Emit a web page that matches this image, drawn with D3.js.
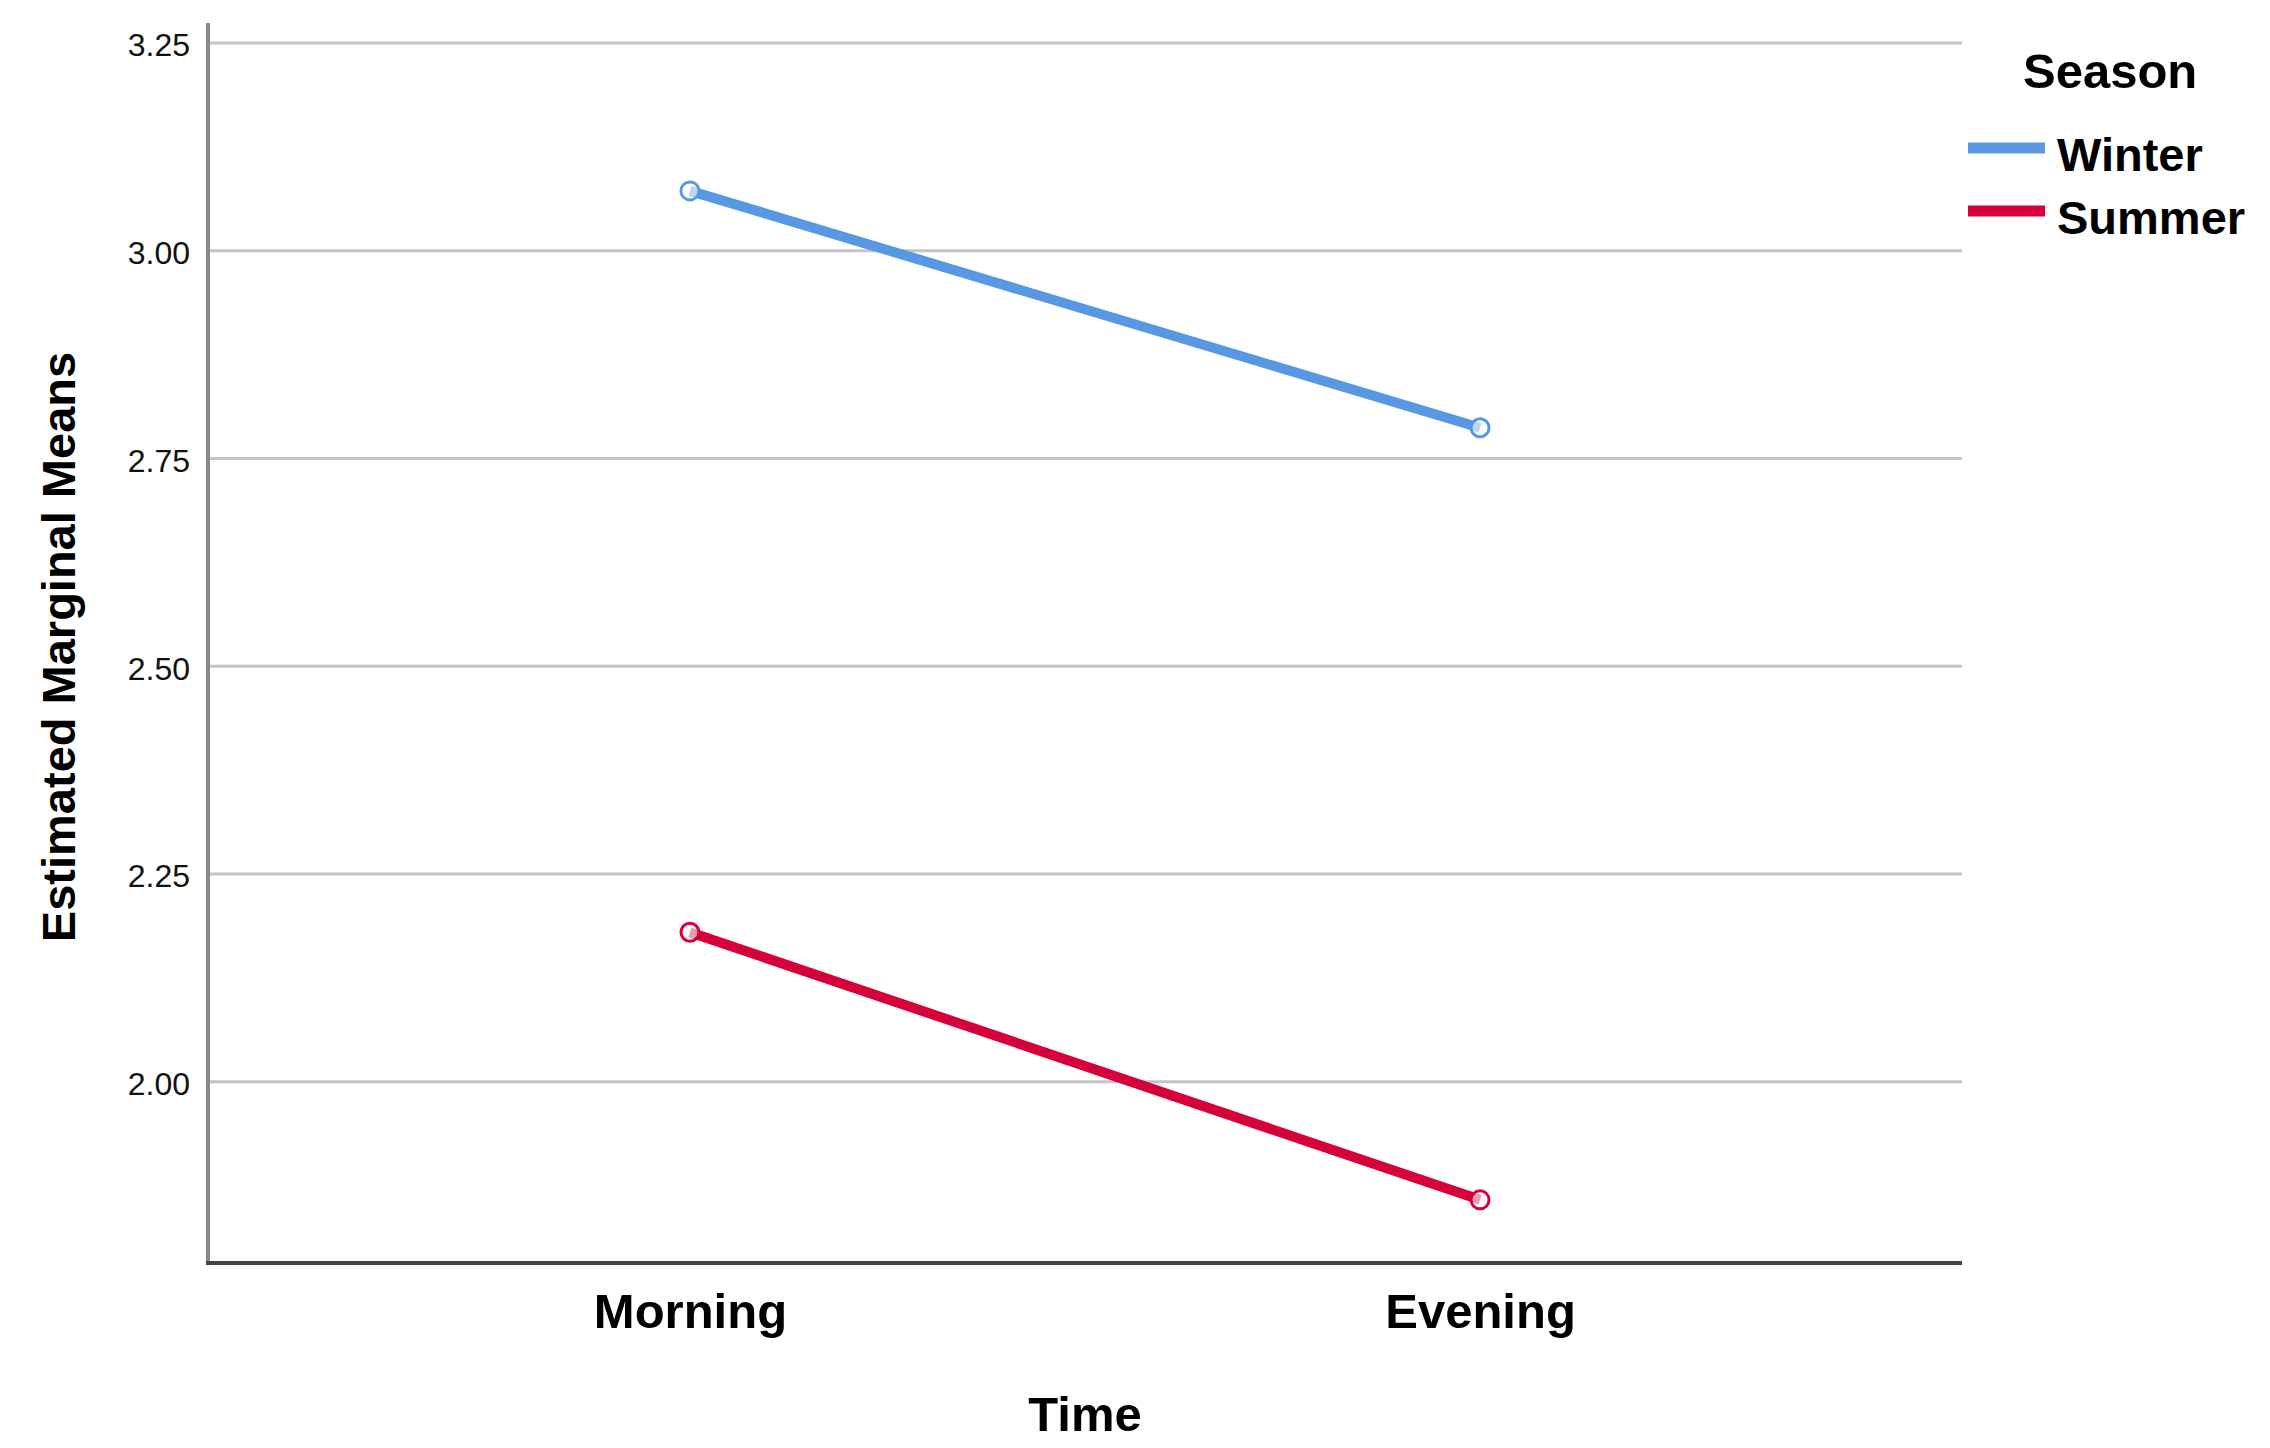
<!DOCTYPE html>
<html>
<head>
<meta charset="utf-8">
<script src="https://cdn.jsdelivr.net/npm/d3@7"></script>
<style>
  html, body { margin: 0; padding: 0; background: #fff; }
  svg { display: block; }
</style>
</head>
<body>
<svg id="chart" width="2270" height="1448"></svg>
<script>
// ---- Data ----
const categories = ["Morning", "Evening"];
const seriesNames = ["Winter", "Summer"];
const winterValues = [3.072, 2.787];
const summerValues = [2.180, 1.858];
const yTicks = [2.00, 2.25, 2.50, 2.75, 3.00, 3.25];
const seriesColors = ["#5898e2", "#d6003a"];
const xTitle = "Time";
const yTitle = "Estimated Marginal Means";
const legendTitle = "Season";

const series = [
  { name: seriesNames[0], values: winterValues, color: seriesColors[0] },
  { name: seriesNames[1], values: summerValues, color: seriesColors[1] }
];

(function () {
// ---- Layout ----
const svg = d3.select("#chart");
const pLeft = 208, pRight = 1962, pTop = 23, pBottom = 1263;

const x = d3.scalePoint().domain(categories).range([pLeft, pRight]).padding(0.61);
const y = d3.scaleLinear().domain([1.782, 3.274]).range([pBottom, pTop]);

const font = "'Liberation Sans', Arial, sans-serif";

// gridlines
svg.append("g").selectAll("line").data(yTicks).join("line")
  .attr("x1", pLeft).attr("x2", pRight)
  .attr("y1", d => y(d)).attr("y2", d => y(d))
  .attr("stroke", "#c4c4c4").attr("stroke-width", 3);

// y axis
const yAxis = d3.axisLeft(y).tickValues(yTicks).tickFormat(d3.format(".2f")).tickSize(0).tickPadding(18);
const gy = svg.append("g").attr("transform", `translate(${pLeft},0)`).call(yAxis);
gy.select(".domain").remove();
gy.selectAll("text")
  .attr("font-family", font).attr("font-size", 32).attr("fill", "#111")
  .attr("dy", "0.4em");
svg.append("line").attr("x1", pLeft).attr("x2", pLeft).attr("y1", pTop).attr("y2", pBottom + 1)
  .attr("stroke", "#8a8a8a").attr("stroke-width", 4);

// x axis
const xAxis = d3.axisBottom(x).tickSize(0).tickPadding(30);
const gx = svg.append("g").attr("transform", `translate(0,${pBottom})`).call(xAxis);
gx.select(".domain").remove();
gx.selectAll("text")
  .attr("font-family", font).attr("font-size", 49).attr("font-weight", "bold").attr("fill", "#000")
  .attr("dy", "0.71em");
svg.append("line").attr("x1", pLeft - 2).attr("x2", pRight).attr("y1", pBottom).attr("y2", pBottom)
  .attr("stroke", "#444").attr("stroke-width", 4);

// lines
const line = d3.line().x((d, i) => x(categories[i])).y(d => y(d));
svg.append("g").selectAll("path").data(series).join("path")
  .attr("d", d => line(d.values))
  .attr("fill", "none").attr("stroke", d => d.color).attr("stroke-width", 10);

// markers
series.forEach(s => {
  svg.append("g").selectAll("circle").data(s.values).join("circle")
    .attr("cx", (d, i) => x(categories[i])).attr("cy", d => y(d))
    .attr("r", 9).attr("fill", "#fff").attr("fill-opacity", 0.6)
    .attr("stroke", s.color).attr("stroke-width", 3);
});

// axis titles
svg.append("text").attr("x", (pLeft + pRight) / 2).attr("y", 1431)
  .attr("text-anchor", "middle").attr("font-family", font).attr("font-size", 49)
  .attr("font-weight", "bold").text(xTitle);

svg.append("text").attr("transform", `translate(75,647) rotate(-90)`)
  .attr("text-anchor", "middle").attr("font-family", font).attr("font-size", 47)
  .attr("font-weight", "bold").text(yTitle);

// legend
svg.append("text").attr("x", 2023).attr("y", 88)
  .attr("font-family", font).attr("font-size", 49).attr("font-weight", "bold").text(legendTitle);
const legendY = d3.scalePoint().domain(seriesNames).range([148, 211]);
const lg = svg.append("g").selectAll("g").data(series).join("g")
  .attr("transform", d => `translate(0,${legendY(d.name)})`);
lg.append("line").attr("x1", 1968).attr("x2", 2045).attr("y1", 0).attr("y2", 0)
  .attr("stroke", d => d.color).attr("stroke-width", 11);
lg.append("text").attr("x", 2057).attr("y", 0).attr("dy", "0.48em")
  .attr("font-family", font).attr("font-size", 47).attr("font-weight", "bold").text(d => d.name);
})();
</script>
</body>
</html>
